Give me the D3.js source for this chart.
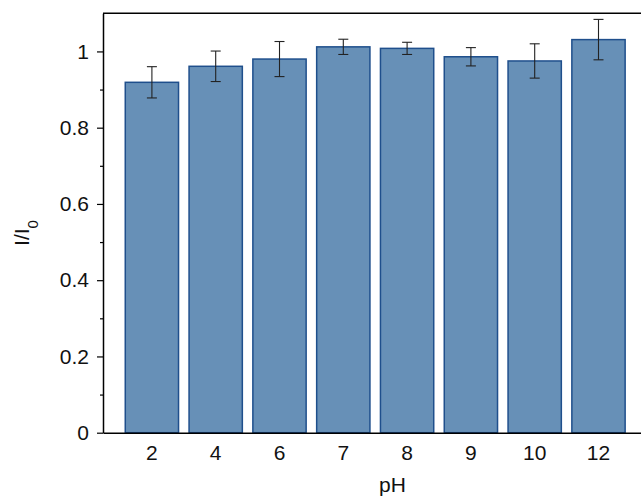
<!DOCTYPE html>
<html>
<head>
<meta charset="utf-8">
<script src="https://cdn.jsdelivr.net/npm/d3@7"></script>
<style>
  html, body { margin: 0; padding: 0; background: #fff; }
  svg { display: block; font-family: "Liberation Sans", Arial, sans-serif; }
</style>
</head>
<body>
<svg id="chart" width="641" height="497"></svg>
<script>
// pH levels and normalised intensity I/I0 with standard deviations
const phLabels = ["2", "4", "6", "7", "8", "9", "10", "12"];
const ratioValues = [0.919, 0.961, 0.980, 1.012, 1.008, 0.986, 0.975, 1.031];
const ratioErrors = [0.041, 0.040, 0.046, 0.020, 0.016, 0.024, 0.045, 0.053];
const yMajorTicks = [0, 0.2, 0.4, 0.6, 0.8, 1];
const yMinorTicks = [0.1, 0.3, 0.5, 0.7, 0.9];

const svg = d3.select("#chart");
const margin = { left: 103, top: 13.3, bottom: 432.7 };
const plotRight = 647.4;
const fontFam = "Liberation Sans, Arial, sans-serif";

const x = d3.scaleBand()
  .domain(phLabels)
  .range([margin.left, plotRight])
  .paddingInner(0.165)
  .paddingOuter(0.349);

const y = d3.scaleLinear()
  .domain([0, 1.1])
  .range([margin.bottom, margin.top]);

const rows = phLabels.map((p, i) => ({ p, v: ratioValues[i], e: ratioErrors[i] }));

// bars
svg.append("g").selectAll("rect")
  .data(rows)
  .join("rect")
  .attr("x", d => x(d.p))
  .attr("width", x.bandwidth())
  .attr("y", d => y(d.v))
  .attr("height", d => y(0) - y(d.v))
  .attr("fill", "#6790b7")
  .attr("stroke", "#1f4f8c")
  .attr("stroke-width", 1.5);

// error bars
const eb = svg.append("g").attr("stroke", "#222").attr("stroke-width", 1.1);
rows.forEach(d => {
  const cx = x(d.p) + x.bandwidth() / 2;
  eb.append("line").attr("x1", cx).attr("x2", cx).attr("y1", y(d.v + d.e)).attr("y2", y(d.v - d.e));
  eb.append("line").attr("x1", cx - 5).attr("x2", cx + 5).attr("y1", y(d.v + d.e)).attr("y2", y(d.v + d.e));
  eb.append("line").attr("x1", cx - 5).attr("x2", cx + 5).attr("y1", y(d.v - d.e)).attr("y2", y(d.v - d.e));
});

// y axis with major ticks
const yAxis = svg.append("g")
  .attr("transform", `translate(${margin.left},0)`)
  .call(d3.axisLeft(y).tickValues(yMajorTicks).tickFormat(d3.format("~g")).tickSize(6).tickPadding(8).tickSizeOuter(0));
yAxis.select(".domain").attr("stroke-width", 1.5);
yAxis.selectAll(".tick line").attr("stroke-width", 1.2);
yAxis.selectAll(".tick text").attr("font-size", 21).attr("fill", "#111").attr("font-family", fontFam);

// minor ticks
svg.append("g")
  .attr("transform", `translate(${margin.left},0)`)
  .call(d3.axisLeft(y).tickValues(yMinorTicks).tickFormat("").tickSize(3).tickSizeOuter(0))
  .call(g => g.select(".domain").remove())
  .selectAll(".tick line").attr("stroke-width", 1.2);

// x axis: labels only
const xAxis = svg.append("g")
  .attr("transform", `translate(0,${margin.bottom})`)
  .call(d3.axisBottom(x).tickSize(0).tickPadding(12).tickSizeOuter(0));
xAxis.select(".domain").attr("stroke-width", 1.5);
xAxis.selectAll(".tick text").attr("font-size", 21).attr("fill", "#111").attr("font-family", fontFam);

// top frame line
svg.append("line")
  .attr("x1", margin.left).attr("x2", plotRight)
  .attr("y1", margin.top).attr("y2", margin.top)
  .attr("stroke", "#000").attr("stroke-width", 1.5);

// axis titles
svg.append("text")
  .attr("x", 392.5)
  .attr("y", 492)
  .attr("text-anchor", "middle")
  .attr("font-size", 21)
  .attr("fill", "#111")
  .text("pH");

const yl = svg.append("text")
  .attr("transform", "translate(29,233) rotate(-90)")
  .attr("text-anchor", "middle")
  .attr("font-size", 21)
  .attr("fill", "#111");
yl.append("tspan").text("I/I");
yl.append("tspan").attr("font-size", 15).attr("dy", 9).text("0");
</script>
</body>
</html>
